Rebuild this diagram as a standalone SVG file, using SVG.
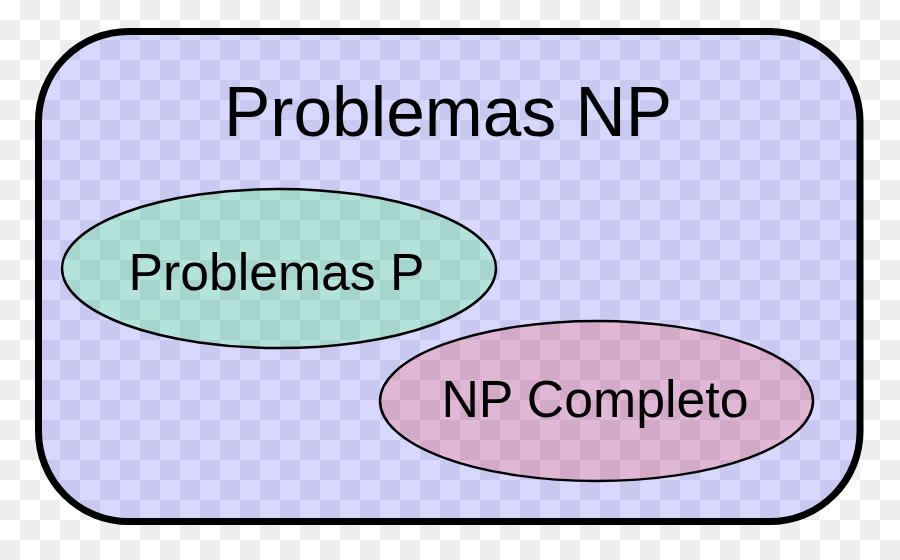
<svg xmlns="http://www.w3.org/2000/svg" width="900" height="560" viewBox="0 0 900 560">
<defs>
<pattern id="chkBg" width="40" height="40" patternUnits="userSpaceOnUse">
<rect width="40" height="40" fill="#ffffff"/>
<rect x="20" y="0" width="20" height="20" fill="#eeeeee"/>
<rect x="0" y="20" width="20" height="20" fill="#eeeeee"/>
</pattern>
<pattern id="chkBlue" width="40" height="40" patternUnits="userSpaceOnUse">
<rect width="40" height="40" fill="#d8d8ff"/>
<rect x="20" y="0" width="20" height="20" fill="#c8c8f0"/>
<rect x="0" y="20" width="20" height="20" fill="#c8c8f0"/>
</pattern>
<pattern id="chkGreen" width="40" height="40" patternUnits="userSpaceOnUse">
<rect width="40" height="40" fill="#b3e3db"/>
<rect x="20" y="0" width="20" height="20" fill="#a6d5cd"/>
<rect x="0" y="20" width="20" height="20" fill="#a6d5cd"/>
</pattern>
<pattern id="chkPink" width="40" height="40" patternUnits="userSpaceOnUse">
<rect width="40" height="40" fill="#e0b8d6"/>
<rect x="20" y="0" width="20" height="20" fill="#d2aac8"/>
<rect x="0" y="20" width="20" height="20" fill="#d2aac8"/>
</pattern>
</defs>
<style>
.lbl{font-family:"Liberation Sans",Arial,sans-serif;fill:#000;text-anchor:middle}
.ell{stroke:#000;stroke-width:2.5}
</style>
<rect width="900" height="560" fill="url(#chkBg)"/>
<g id="np">
<rect x="38.5" y="31.5" width="821.5" height="490" rx="90" ry="90" fill="url(#chkBlue)" stroke="#000" stroke-width="7"/>
<text class="lbl" x="448" y="136" font-size="69.5">Problemas NP</text>
</g>
<g id="p">
<ellipse class="ell" cx="279" cy="268.5" rx="217" ry="79.5" fill="url(#chkGreen)"/>
<text class="lbl" x="276.5" y="290" font-size="51.7">Problemas P</text>
</g>
<g id="npc">
<ellipse class="ell" cx="596.5" cy="401" rx="216.5" ry="80" fill="url(#chkPink)"/>
<text class="lbl" x="595" y="417" font-size="51.8">NP Completo</text>
</g>
<g id="connectors"/>
</svg>
